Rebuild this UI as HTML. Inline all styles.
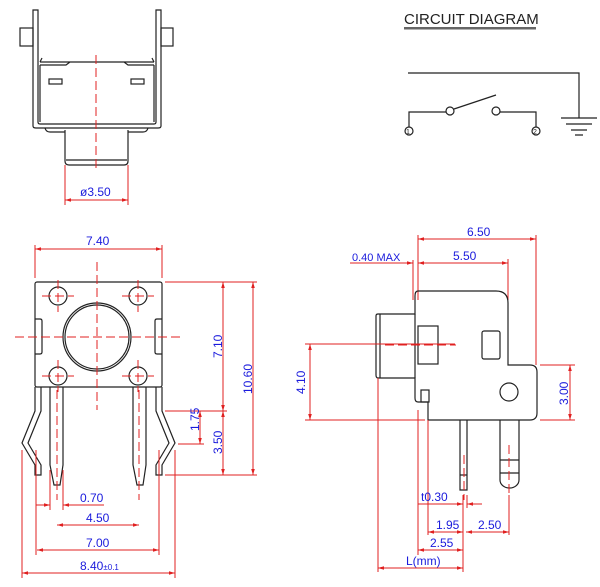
<!DOCTYPE html>
<html><head><style>
body{margin:0;background:#fff;}
svg{display:block;}
text{font-family:"Liberation Sans",sans-serif;font-size:12px;fill:#1a1adc;}
.k{stroke:#222;stroke-width:1.2;fill:none;}
.r{stroke:#e02020;stroke-width:1;fill:none;}
.d{stroke:#e02020;stroke-width:1;fill:none;stroke-dasharray:9,4;}
</style></head><body>
<svg width="600" height="587" viewBox="0 0 600 587" xmlns="http://www.w3.org/2000/svg">
<defs>
<marker id="a" viewBox="0 0 10 10" refX="10" refY="5" markerWidth="6" markerHeight="6" orient="auto-start-reverse"><path d="M0,2 L10,5 L0,8z" fill="#e02020"/></marker>
</defs>

<!-- TOP VIEW -->
<g class="k">
<path d="M33,10 H38 V122 Q38,124 40,124 H154 Q156,124 156,122 V10 H161 V126 Q161,128 158,128 H36 Q33,128 33,126 Z"/>
<rect x="20" y="28" width="13" height="18"/>
<rect x="161" y="28" width="12" height="18"/>
<path d="M40,62 H154 M40,65 V122 M154,65 V122 M40,65 H66 L70,62 M154,65 H128 L124,62 M42,58 L40,62 M152,58 L154,62"/>
<rect x="49" y="79" width="13" height="5"/>
<rect x="131" y="79" width="13" height="5"/>
<path d="M45,128 Q46,132 50,132 H65 M148,128 Q147,132 143,132 H128"/>
<path d="M65,130 V161 Q65,165 69,165 H124 Q128,165 128,161 V130"/>
<path d="M66,160 H127"/>
</g>
<path class="d" d="M96,55 V172"/>
<path class="r" d="M65,165 V205 M128,165 V205"/>
<path class="r" d="M65,200 H128" marker-start="url(#a)" marker-end="url(#a)"/>
<text x="80" y="196" font-size="13">ø3.50</text>

<!-- CIRCUIT -->
<text x="404" y="24" style="font-size:15px;fill:#222">CIRCUIT DIAGRAM</text>
<rect x="404" y="27" width="132" height="2.5" fill="#666"/>
<g class="k" stroke-width="1">
<path d="M408,73 H579 V118"/>
<path d="M561,118 H597 M566,124 H592 M571,130 H587 M575,135 H583"/>
<path d="M409,127 V112 H446 M454,109 L496,95 M500,112 H536 V127"/>
<circle cx="450" cy="111" r="4"/>
<circle cx="496" cy="111" r="4"/>
<circle cx="409" cy="131" r="4"/>
<circle cx="536" cy="131" r="4"/>
</g>
<text x="406" y="134" style="font-size:7px;fill:#222">1</text>
<text x="533" y="134" style="font-size:7px;fill:#222">2</text>

<!-- FRONT VIEW -->
<path class="r" d="M35,245 V278 M162,245 V278"/>
<path class="r" d="M35,249 H162" marker-start="url(#a)" marker-end="url(#a)"/>
<text x="86" y="245">7.40</text>
<g class="k">
<rect x="35" y="282" width="127" height="105" rx="2"/>
<circle cx="58" cy="296" r="9"/><circle cx="138" cy="296" r="9"/>
<circle cx="58" cy="376" r="9"/><circle cx="138" cy="376" r="9"/>
<circle cx="97" cy="337" r="34"/><circle cx="97" cy="337" r="32"/>
<path d="M35,319 H40 Q42,319 42,321 V352 Q42,354 40,354 H35"/>
<path d="M162,319 H157 Q155,319 155,321 V352 Q155,354 157,354 H162"/>
<path d="M35,387 V411 L22,443 L35,465 V475 H41 V465 L28,443 L41,411 V387"/>
<path d="M162,387 V411 L175,443 L162,465 V475 H156 V465 L169,443 L156,411 V387"/>
<path d="M50,387 V465 L54,485 H60 L63,465 V387"/>
<path d="M133,387 V465 L137,485 H143 L146,465 V387"/>
</g>
<g class="d">
<path d="M97,262 V410 M15,337 H180"/>
<path d="M42,296 H74 M58,280 V312 M122,296 H154 M138,280 V312 M42,376 H74 M58,360 V392 M122,376 H154 M138,360 V392"/>
<path d="M57,390 V500 M139,390 V500"/>
</g>
<path class="r" d="M165,282 H257 M165,411 H227 M178,444 H204 M165,475 H257"/>
<path class="r" d="M223,282 V411" marker-start="url(#a)" marker-end="url(#a)"/>
<path class="r" d="M253,282 V475" marker-start="url(#a)" marker-end="url(#a)"/>
<path class="r" d="M200,411 V444" marker-start="url(#a)" marker-end="url(#a)"/>
<path class="r" d="M223,411 V475" marker-start="url(#a)" marker-end="url(#a)"/>
<text transform="translate(222,358) rotate(-90)">7.10</text>
<text transform="translate(252,394) rotate(-90)">10.60</text>
<text transform="translate(199,431) rotate(-90)">1.75</text>
<text transform="translate(222,454) rotate(-90)">3.50</text>
<path class="r" d="M36,450 V555 M50,470 V510 M63,470 V510 M159,450 V555 M22,450 V578 M175,450 V578"/>
<path class="r" d="M36,505 H50" marker-end="url(#a)"/><path class="r" d="M63,505 H104" marker-start="url(#a)"/>
<text x="80" y="502">0.70</text>
<path class="r" d="M57,525 H139" marker-start="url(#a)" marker-end="url(#a)"/>
<text x="86" y="522">4.50</text>
<path class="r" d="M37,550 H159" marker-start="url(#a)" marker-end="url(#a)"/>
<text x="86" y="547">7.00</text>
<path class="r" d="M22,573 H175" marker-start="url(#a)" marker-end="url(#a)"/>
<text x="80" y="570">8.40<tspan font-size="8">±0.1</tspan></text>

<!-- SIDE VIEW -->
<path class="r" d="M418,235 V300 M536,235 V365 M508,259 V300"/>
<path class="r" d="M418,239 H536" marker-start="url(#a)" marker-end="url(#a)"/>
<text x="467" y="236">6.50</text>
<path class="r" d="M418,263 H508" marker-start="url(#a)" marker-end="url(#a)"/>
<text x="453" y="260">5.50</text>
<path class="r" d="M350,263 H413" marker-end="url(#a)"/>
<path class="r" d="M413,260 V300"/>
<text x="352" y="261" style="font-size:11px">0.40 MAX</text>
<g class="k">
<path d="M418,291 H496 Q508,291 508,303 V365 H530 Q537,365 537,372 V413 Q537,420 530,420 H428 V402 H418 Q415,402 415,398 V378 H378 Q376,378 376,375 V316 Q376,314 378,314 H415 V296 Q415,291 418,291 Z"/>
<path d="M415,314 V378 M380,314 V378"/>
<rect x="418" y="326" width="20" height="38"/>
<rect x="482" y="331" width="18" height="28" rx="2"/>
<circle cx="509" cy="392" r="9"/>
<rect x="421" y="390" width="8" height="12"/>
<path d="M460,420 V490 H467 V420 M460,475 H467"/>
<path d="M500,420 V480 A9.5,8 0 0 0 519,480 V420 M500,460 H519 M500,473 H519"/>
</g>
<path class="d" d="M385,345 H456 M509,445 V500 M464,455 V500"/>
<path class="r" d="M305,344 H455 M305,420 H425 M540,365 H575 M540,420 H575"/>
<path class="r" d="M310,344 V420" marker-start="url(#a)" marker-end="url(#a)"/>
<text transform="translate(305,394) rotate(-90)">4.10</text>
<path class="r" d="M570,365 V420" marker-start="url(#a)" marker-end="url(#a)"/>
<text transform="translate(568,405) rotate(-90)">3.00</text>
<path class="r" d="M418,410 V555 M428,420 V535 M378,378 V572 M463,495 V572 M467,495 V508 M509,495 V535"/>
<path class="r" d="M418,504 H463" marker-end="url(#a)"/><path class="r" d="M467,504 H482" marker-start="url(#a)"/>
<text x="421" y="501">t0.30</text>
<path class="r" d="M428,532 H463" marker-start="url(#a)" marker-end="url(#a)"/>
<text x="436" y="529">1.95</text>
<path class="r" d="M466,532 H509" marker-start="url(#a)" marker-end="url(#a)"/>
<text x="478" y="529">2.50</text>
<path class="r" d="M418,550 H463" marker-start="url(#a)" marker-end="url(#a)"/>
<text x="430" y="547">2.55</text>
<path class="r" d="M378,568 H463" marker-start="url(#a)" marker-end="url(#a)"/>
<text x="406" y="565">L(mm)</text>
</svg>
</body></html>
